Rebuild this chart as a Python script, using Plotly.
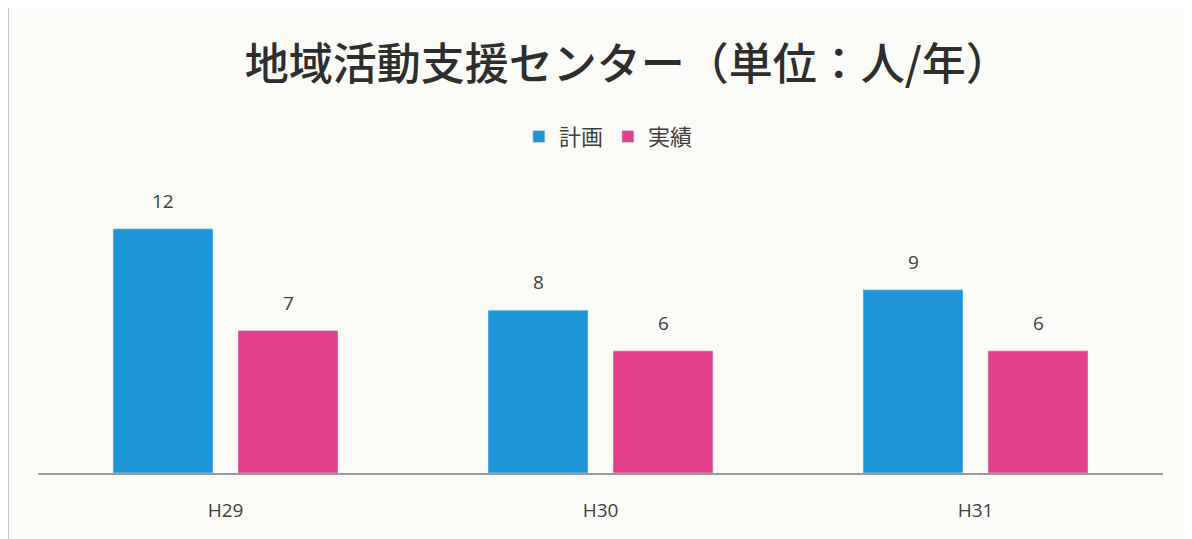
import plotly.graph_objects as go

categories = ["H29", "H30", "H31"]
plan = [12, 8, 9]
actual = [7, 6, 6]
series_names = ["計画", "実績"]
title_text = "地域活動支援センター（単位：人/年）"

blue = "#1e95d6"
pink = "#e23f8c"
font_lat = "Open Sans, Noto Sans CJK JP"
font_cjk = "Noto Sans CJK JP"

fig = go.Figure()
fig.add_trace(go.Bar(x=categories, y=plan, name=series_names[0], marker_color=blue))
fig.add_trace(go.Bar(x=categories, y=actual, name=series_names[1], marker_color=pink))

for vals, shift in ((plan, -62.5), (actual, 62.5)):
    for c, v in zip(categories, vals):
        fig.add_annotation(x=c, y=v, text=str(v), showarrow=False, xshift=shift,
                           yshift=28, font=dict(family=font_lat, size=19, color="#404040"))

fig.update_layout(
    width=1184, height=531,
    paper_bgcolor="#fbfbf7", plot_bgcolor="#fbfbf7",
    margin=dict(l=30, r=29, t=180, b=66),
    barmode="group", bargap=1/3, bargroupgap=0.2,
    title=dict(text=title_text, x=0.523, xanchor="center", y=0.893, yanchor="middle",
               font=dict(family=font_cjk, size=44, color="#2e2e2e", weight=500)),
    legend=dict(orientation="h", x=0.507, xanchor="center", y=1.18, yanchor="middle",
                font=dict(family=font_cjk, size=22, color="#404040"),
                itemwidth=30, tracegroupgap=0, bgcolor="rgba(0,0,0,0)"),
    showlegend=True,
    xaxis=dict(showline=True, linecolor="#9a9a9a", linewidth=1.5, ticks="outside",
               ticklen=19, tickcolor="rgba(0,0,0,0)",
               tickfont=dict(family=font_lat, size=19, color="#404040")),
    yaxis=dict(range=[0, 14], showgrid=False, showticklabels=False, zeroline=False),
    shapes=[dict(type="line", xref="paper", yref="paper", x0=-29.5/1125, x1=-29.5/1125,
                 y0=-0.3, y1=1.7, line=dict(color="#c8c8c8", width=1))],
)

fig.write_html("out.html")
